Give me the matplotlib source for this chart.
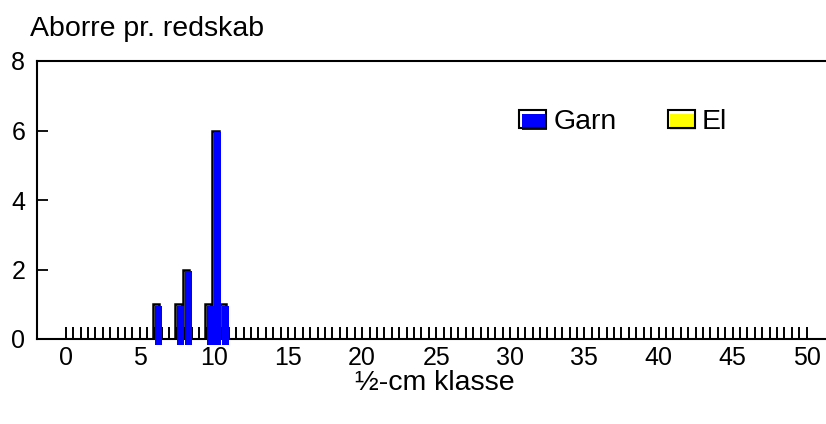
import numpy as np
import matplotlib
matplotlib.use("Agg")
import matplotlib.pyplot as plt
from matplotlib.patches import Rectangle
from matplotlib.legend_handler import HandlerBase

plt.rcParams['font.family'] = ['Liberation Sans', 'DejaVu Sans']

# Data
classes = np.arange(0, 50.5, 0.5)          # ½-cm classes 0 .. 50
garn_classes = [6, 7.5, 8, 9.5, 10, 10.5]
garn_values = [1, 1, 2, 1, 6, 1]
el_classes = []
el_values = []
xtick_labels = [0, 5, 10, 15, 20, 25, 30, 35, 40, 45, 50]
ytick_labels = [0, 2, 4, 6, 8]

W, H = 826, 424
fig = plt.figure(figsize=(W / 100, H / 100), dpi=100)
ax = fig.add_axes([37 / W, (H - 339) / H, (832 - 37) / W, (339 - 61) / H])

x0_px, x50_px = 65.7, 806.7
ppu = (x50_px - x0_px) / 50
ax.set_xlim(-(x0_px - 37) / ppu, (832 - x0_px) / ppu)
ax.set_ylim(0, 8)

TICK_FS = 18
TEXT_FS = 20.5


def draw_series(xs, vs, color):
    for x, v in zip(xs, vs):
        ax.bar(x + 0.11, v, width=0.42, fill=False, edgecolor='black',
               linewidth=1.8, zorder=3)
        ax.bar(x + 0.27, v + 0.12, bottom=-0.17, width=0.46, color=color,
               linewidth=0, zorder=4, clip_on=False)


draw_series(garn_classes, garn_values, '#0000ff')
draw_series(el_classes, el_values, '#ffff00')

# axis styling
ax.spines['right'].set_visible(False)
for s in ['left', 'top', 'bottom']:
    ax.spines[s].set_linewidth(1.5)

ax.set_xticks(xtick_labels)
ax.set_xticklabels([str(v) for v in xtick_labels], fontsize=TICK_FS)
ax.set_xticks(classes, minor=True)
ax.tick_params(axis='x', which='both', direction='in', length=9, width=1.4,
               pad=5, color='black')
ax.set_yticks(ytick_labels)
ax.set_yticklabels([str(v) for v in ytick_labels], fontsize=TICK_FS)
ax.tick_params(axis='y', direction='in', length=8, width=1.3, pad=8.5)
ax.set_xlabel('½-cm klasse', fontsize=TEXT_FS, labelpad=0)

fig.text(30 / W, 1 - 29 / H, 'Aborre pr. redskab', fontsize=TEXT_FS,
         ha='left', va='center')


class ShadowHandler(HandlerBase):
    def __init__(self, color):
        super().__init__()
        self.color = color

    def create_artists(self, legend, orig_handle, xdescent, ydescent, width,
                       height, fontsize, trans):
        r2 = Rectangle((-xdescent + 2, -ydescent - 2), width - 1, height - 1,
                       facecolor=self.color, edgecolor='none', transform=trans)
        r3 = Rectangle((-xdescent, -ydescent), width, height, facecolor='none',
                       edgecolor='black', linewidth=1.5, transform=trans)
        return [r2, r3]


h1 = Rectangle((0, 0), 1, 1)
h2 = Rectangle((0, 0), 1, 1)
leg = ax.legend([h1, h2], ['Garn', 'El'], ncol=2, frameon=False, fontsize=TEXT_FS,
                loc='upper left', borderpad=0, borderaxespad=0,
                bbox_to_anchor=((519 - 37) / (832 - 37), (339 - 109) / (339 - 61)),
                handlelength=0.95, handleheight=0.56, handletextpad=0.25,
                columnspacing=1.8,
                handler_map={h1: ShadowHandler('#0000ff'), h2: ShadowHandler('#ffff00')})

fig.savefig('out.png', dpi=100)
